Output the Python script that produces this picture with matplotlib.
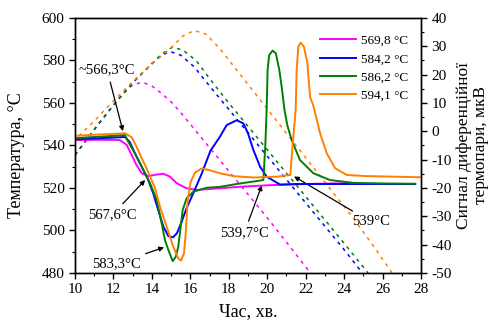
import numpy as np
import matplotlib
matplotlib.use("Agg")
import matplotlib.pyplot as plt
from matplotlib.ticker import MultipleLocator

plt.rcParams['font.family'] = ['Liberation Serif', 'DejaVu Serif']
plt.rcParams['axes.unicode_minus'] = False

# furnace temperature (dashed, left axis), °C
t_569 = [10, 11, 12, 12.5, 13, 13.5, 14, 14.5, 15, 15.5, 16, 16.5, 17, 18, 19, 20, 21, 22.25]
T_569 = [535.5, 547.5, 559, 564.5, 568.5, 569.8, 568, 564.5, 560.5, 555.5, 550, 544.5, 539, 528, 517, 506, 494.5, 480]

t_584 = [10, 11, 12, 13, 13.5, 14, 14.5, 14.95, 15.5, 16.2, 17, 18, 19, 20, 21, 22, 23, 24, 24.95]
T_584 = [535.5, 547.5, 559, 569.5, 574, 578.5, 582.5, 584.2, 582.5, 577, 568, 557, 546, 535, 524, 513, 502, 491, 480]

t_586 = [10, 11, 12, 13, 13.5, 14, 14.5, 15.05, 15.6, 16.3, 17, 18, 19, 20, 21, 22, 23, 24, 25.25]
T_586 = [535.5, 547.5, 559, 569.5, 574, 578.5, 583, 586.2, 585, 580, 571.5, 560, 549, 538, 527, 516, 505, 494, 480]

t_594 = [10.2, 11, 12, 12.5, 13, 14, 15, 15.6, 16.2, 16.8, 17.5, 18.5, 19.5, 20.5, 21.5, 22.5, 23.5, 24.5, 25.5, 26.5]
T_594 = [544.5, 551.5, 561, 565.5, 570, 578.5, 586, 591.5, 594.1, 592.5, 586, 574.5, 563, 551.5, 540, 528.5, 517, 505.5, 493, 480]

# differential thermocouple signal (solid, right axis), µV
s_569_t = [10, 11, 12, 12.34, 12.69, 12.95, 13.2, 13.47, 13.82, 14.2, 14.6, 14.94, 15.29, 15.8, 16.33, 17.54, 18.5, 20.15, 22, 24.2]
s_569_v = [-3.1, -3.0, -3.0, -3.1, -4.8, -8.4, -11.9, -14.8, -15.8, -15.3, -15.0, -16.0, -18.3, -20.1, -20.7, -20.1, -19.6, -19.0, -18.6, -18.3]

s_584_t = [10, 11, 12, 12.6, 12.85, 13.12, 13.47, 13.8, 14.07, 14.33, 14.6, 14.86, 15.1, 15.3, 15.55, 15.8, 16.15, 16.6, 17.05,
           17.54, 17.89, 18.41, 18.76, 19.0, 19.28, 19.63, 19.97, 20.67, 21.5, 23, 25, 27.7]
s_584_v = [-2.8, -2.5, -2.2, -2.0, -3.8, -7.8, -12.5, -17.0, -21.9, -27.8, -33.7, -37.0, -37.4, -36.0, -31.9, -27.2, -21.9, -14.8, -6.8,
           -1.9, 2.2, 3.9, 2.8, -0.7, -6.6, -12.5, -16.0, -18.8, -18.6, -18.6, -18.6, -18.6]

s_586_t = [10, 11, 12, 12.6, 12.77, 13.12, 13.47, 13.9, 14.25, 14.51, 14.68, 14.86, 15.08, 15.25, 15.37, 15.5, 15.6, 15.81, 16.16,
           16.85, 17.54, 18.4, 19.2, 19.8, 19.9, 19.97, 20.02, 20.1, 20.28, 20.45, 20.63, 20.75, 20.9, 21.05, 21.27, 21.7, 22.4,
           23.27, 24.5, 26, 27.7]
s_586_v = [-2.4, -2.0, -1.6, -1.3, -3.7, -7.8, -12.5, -18.3, -24.2, -32.5, -38.4, -41.9, -45.8, -44.2, -40.7, -33.7, -27.8, -23.6,
           -21.3, -19.9, -19.6, -18.6, -17.8, -17.2, -5.0, 7.5, 21.6, 26.9, 28.5, 27.5, 21.6, 15.8, 7.5, 2.0, -3.0, -10.1, -14.8,
           -17.2, -18.2, -18.4, -18.5]

s_594_t = [10, 11, 12, 12.6, 12.95, 13.2, 13.47, 13.8, 14.16, 14.42, 14.77, 15.11, 15.37, 15.52, 15.67, 15.76, 15.86, 16.02, 16.24,
           16.59, 17.0, 17.54, 18.24, 19.3, 20.5, 21.2, 21.32, 21.48, 21.53, 21.62, 21.74, 21.91, 22.09, 22.23, 22.4, 22.75,
           23.1, 23.53, 24.14, 25.18, 27.95]
s_594_v = [-1.6, -1.2, -0.9, -0.7, -2.1, -5.4, -9.5, -14.2, -20.1, -26.6, -33.7, -40.7, -44.8, -45.6, -43.0, -36.0, -24.2, -17.8,
           -14.6, -13.1, -13.7, -14.8, -15.8, -16.3, -16.0, -15.4, -5.0, 7.5, 21.6, 29.9, 31.3, 29.9, 24.0, 12.2, 9.0, -0.7,
           -7.8, -13.0, -15.4, -15.8, -16.2]

labels = ['569,8 °C', '584,2 °C', '586,2 °C', '594,1 °C']
colors = ['#ff00ff', '#0000ff', '#008000', '#ff8000']

fig = plt.figure(figsize=(4.88, 3.23), dpi=100)
ax = fig.add_axes([0.1537, 0.1548, 0.709, 0.7895])
ax2 = ax.twinx()

dash = (2.2, 3.0)
for tt, TT, c in zip([t_569, t_584, t_586, t_594], [T_569, T_584, T_586, T_594], colors):
    ax.plot(tt, TT, color=c, lw=1.1, dashes=dash)

signals = [(s_569_t, s_569_v), (s_584_t, s_584_v), (s_586_t, s_586_v), (s_594_t, s_594_v)]
for (tt, vv), c, lab in zip(signals, colors, labels):
    ax2.plot(tt, vv, color=c, lw=1.4, label=lab)

ax.set_xlim(10, 28)
ax.set_ylim(480, 600)
ax2.set_ylim(-50, 40)
ax.xaxis.set_major_locator(MultipleLocator(2))
ax.xaxis.set_minor_locator(MultipleLocator(1))
ax.yaxis.set_major_locator(MultipleLocator(20))
ax.yaxis.set_minor_locator(MultipleLocator(10))
ax2.yaxis.set_major_locator(MultipleLocator(10))
ax2.yaxis.set_minor_locator(MultipleLocator(5))

for a in (ax, ax2):
    a.tick_params(which='major', direction='out', length=4, width=1, labelsize=11)
    a.tick_params(which='minor', direction='out', length=2.5, width=0.8)
    for s in a.spines.values():
        s.set_linewidth(1.0)
ax.tick_params(axis='x', which='both', top=False)

ax.set_xlabel('Час, хв.', fontsize=13, labelpad=5)
ax.set_ylabel('Температура, °C', fontsize=13)
ax.yaxis.set_label_coords(-0.145, 0.463)
ax2.set_ylabel('Сигнал диференційної\nтермопари, мкВ', fontsize=12.5, labelpad=3,
               linespacing=1.05)

ax2.legend(loc='upper right', bbox_to_anchor=(0.985, 0.965), frameon=False, fontsize=9.5,
           handlelength=2.7, handletextpad=0.35, labelspacing=0.45, borderaxespad=0.2)

# peak temperature annotations
arrow = dict(arrowstyle='-|>', color='black', lw=0.9, mutation_scale=7)
ax.annotate('~566,3°C', xy=(12.53, 545.5), xytext=(11.67, 575.5), fontsize=10.5,
            ha='center', va='center', arrowprops=arrow)
ax.annotate('567,6°C', xy=(13.75, 524.7), xytext=(11.93, 507.3), fontsize=10.5,
            ha='center', va='center', arrowprops=arrow)
ax.annotate('583,3°C', xy=(14.77, 492.5), xytext=(12.13, 484.3), fontsize=10.5,
            ha='center', va='center', arrowprops=arrow)
ax.annotate('539,7°C', xy=(19.77, 522.5), xytext=(18.8, 498.8), fontsize=10.5,
            ha='center', va='center', arrowprops=arrow)
ax.annotate('539°C', xy=(21.27, 526.1), xytext=(25.38, 504.1), fontsize=10.5,
            ha='center', va='center', arrowprops=arrow)

fig.savefig('out.png', dpi=100)
